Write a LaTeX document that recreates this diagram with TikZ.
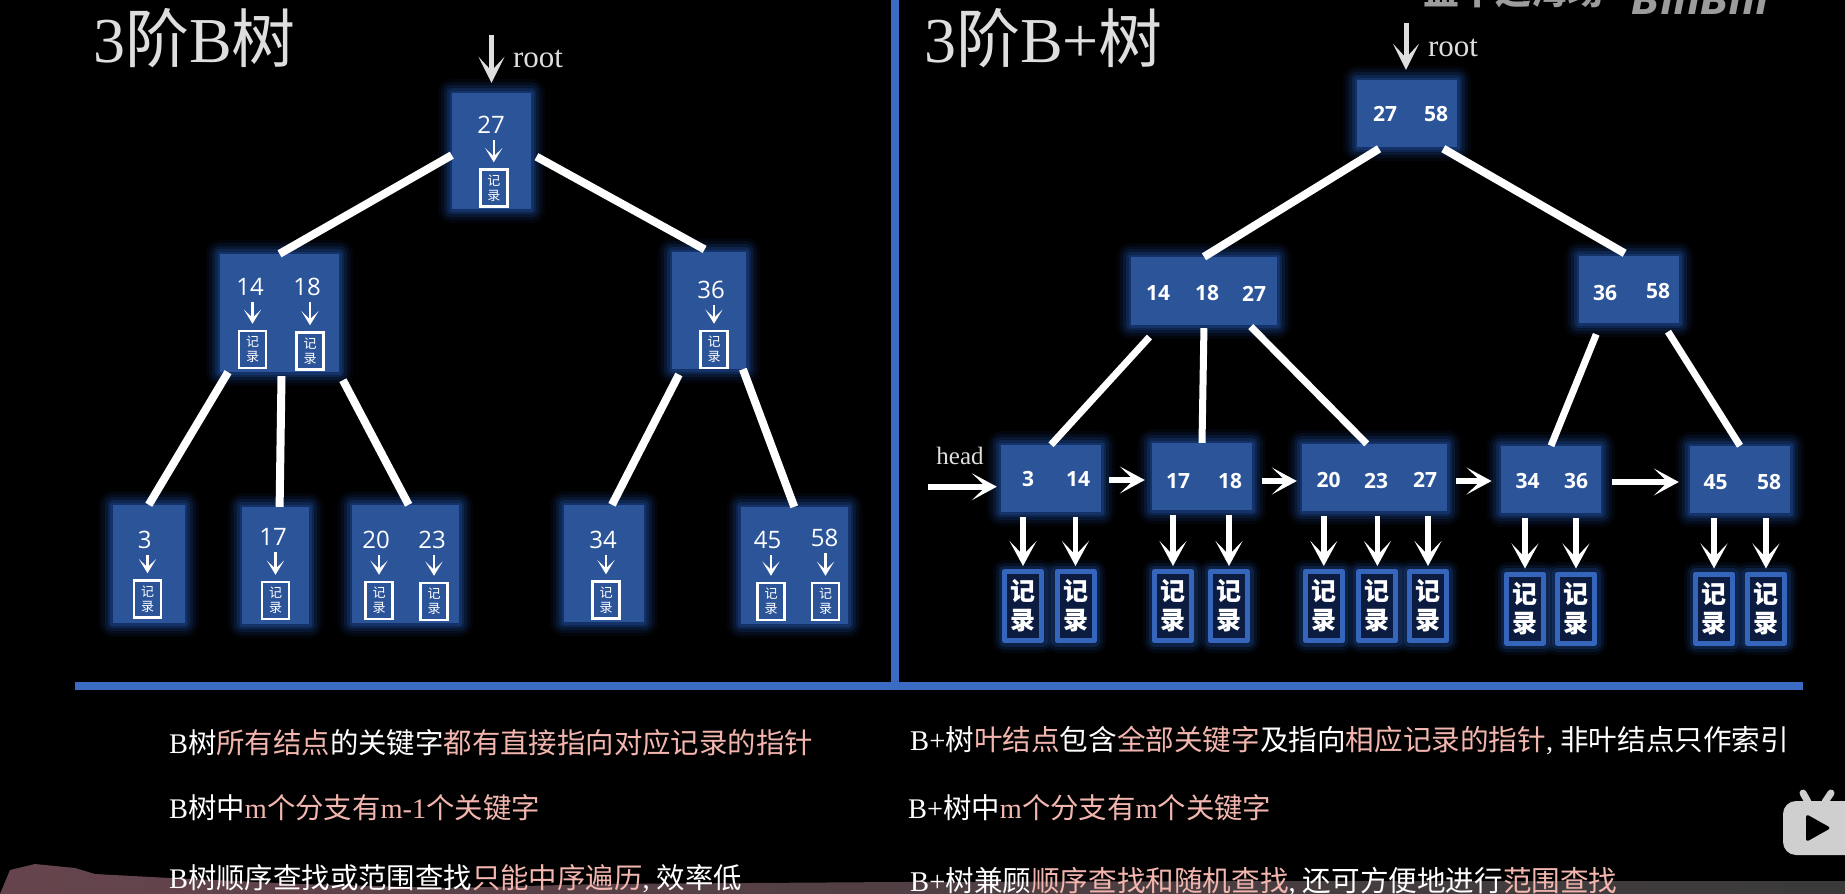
\documentclass[tikz,border=0pt]{standalone}
\usepackage{fontspec}
\setmainfont{Liberation Serif}
\newfontfamily\cjk{Noto Sans CJK SC}
\newfontfamily\numfont{Open Sans}
\newfontfamily\logofont{DejaVu Sans}
\usetikzlibrary{arrows.meta}

\definecolor{nodeblue}{HTML}{2C5499}
\definecolor{glowblue}{HTML}{2A62C8}
\definecolor{barblue}{HTML}{3A6CC4}
\definecolor{recblue}{HTML}{3566BC}
\definecolor{recdark}{HTML}{0B1C40}
\definecolor{notepink}{HTML}{F3B6AE}
\definecolor{titlegray}{HTML}{DEDEDE}
\definecolor{markgray}{HTML}{9C9C9C}
\definecolor{iconGray}{HTML}{CFCFCF}
\definecolor{bandleft}{HTML}{66444D}
\definecolor{bandmid}{HTML}{5A414A}
\definecolor{bandright}{HTML}{3A3A3A}

\newcommand{\zh}[1]{{\cjk #1}}
\newcommand{\pinktext}[1]{\textcolor{notepink}{#1}}

\begin{document}
\begin{tikzpicture}[
    x=1pt, y=-1pt,
    keybox/.style={
        fill=nodeblue, inner sep=0pt, line join=round,
        preaction={draw=glowblue, line width=28pt, opacity=0.06},
        preaction={draw=glowblue, line width=22pt, opacity=0.09},
        preaction={draw=glowblue, line width=16pt, opacity=0.13},
        preaction={draw=glowblue, line width=10pt, opacity=0.18},
        preaction={draw=glowblue, line width=5pt, opacity=0.22}
    },
    keylabel/.style={
        font=\fontsize{24}{28}\selectfont\numfont, text=white, inner sep=0pt
    },
    keybold/.style={
        font=\fontsize{21}{25}\selectfont\numfont\bfseries, text=white, inner sep=0pt
    },
    recsmall/.style={
        draw=white, line width=2.5pt, minimum width=27pt, minimum height=37pt,
        inner sep=0pt, align=center, text=white,
        font=\fontsize{13}{15}\selectfont\cjk
    },
    recbig/.style={
        draw=recblue, line width=5pt, fill=recdark, minimum width=37pt, minimum height=69pt,
        inner sep=0pt, align=center, text=white, line join=round,
        font=\fontsize{25}{29}\selectfont\cjk\bfseries,
        preaction={draw=glowblue, line width=24pt, opacity=0.07},
        preaction={draw=glowblue, line width=18pt, opacity=0.12},
        preaction={draw=glowblue, line width=12pt, opacity=0.20}
    },
    linkline/.style={draw=white, line width=8pt},
    ptrsmall/.style={
        -{Stealth[length=14pt, width=17pt, inset=8pt]},
        draw=white, line width=2.5pt, shorten <=6pt, shorten >=6pt
    },
    ptrbig/.style={
        -{Stealth[length=25pt, width=27pt, inset=14pt]},
        draw=white, line width=5.5pt, shorten <=5pt, shorten >=3pt
    },
    rootarrow/.style={
        -{Stealth[length=26pt, width=26pt, inset=14pt]},
        draw=titlegray, line width=5pt, shorten >=10pt
    },
    roottext/.style={font=\fontsize{31}{34}\selectfont, text=titlegray, inner sep=0pt},
    headtext/.style={font=\fontsize{25}{30}\selectfont, text=titlegray, inner sep=0pt},
    bigtitle/.style={font=\fontsize{64}{70}\selectfont, text=titlegray, anchor=base west, inner sep=0pt},
    notetext/.style={font=\fontsize{28.4}{32}\selectfont, text=white, anchor=base west, inner sep=0pt}
]

\useasboundingbox (0,0) rectangle (1845,894);
\fill[black] (0,0) rectangle (1845,894);

% --- band along the bottom edge ---
\shade[left color=bandleft, middle color=bandmid, right color=bandright]
    (0,894) -- (10,870) -- (35,864) -- (55,866) -- (75,868) -- (95,874) -- (170,878)
    -- (300,884) -- (450,888) -- (600,884) -- (900,882) -- (1300,881) -- (1845,881) -- (1845,894) -- cycle;

% --- watermark, cut by the top edge ---
\node[font=\fontsize{36}{40}\selectfont\cjk\bfseries, text=markgray, anchor=base west, inner sep=0pt]
    (markname) at (1423,5) {盖十这海场};
\node[font=\fontsize{38}{42}\selectfont\logofont\bfseries\itshape, text=markgray, anchor=base, inner sep=0pt]
    (marklogo) at (1700,14) {BiliBili};

% --- player icon at the right edge ---
\draw[line width=7pt, line cap=round, draw=iconGray] (1803,793) -- (1808,802);
\draw[line width=7pt, line cap=round, draw=iconGray] (1831,793) -- (1825,802);
\fill[iconGray, rounded corners=13pt] (1783,801) rectangle (1870,855);
\fill[black, rounded corners=3pt] (1806,814) -- (1806,842) -- (1831,828) -- cycle;

% --- dividers ---
\fill[barblue] (891,0) rectangle (899,686);
\fill[barblue] (75,682) rectangle (1803,690);

% --- titles ---
\node[bigtitle] (titleb) at (93,62) {3\zh{阶}B\zh{树}};
\node[bigtitle] (titlebp) at (924,62) {3\zh{阶}B+\zh{树}};

% --- 3-order B tree ---
\node[keybox, minimum width=79pt, minimum height=116pt] (bt0) at (491.5,151) {};
\node[keybox, minimum width=119pt, minimum height=118pt] (bt1) at (279.5,313) {};
\node[keybox, minimum width=74pt, minimum height=117pt] (bt2) at (709,310.5) {};
\node[keybox, minimum width=72pt, minimum height=118pt] (bt3) at (148.75,564) {};
\node[keybox, minimum width=67pt, minimum height=117pt] (bt4) at (275.5,565.5) {};
\node[keybox, minimum width=107pt, minimum height=118pt] (bt5) at (405.5,564) {};
\node[keybox, minimum width=79.5pt, minimum height=117pt] (bt6) at (603.75,563.5) {};
\node[keybox, minimum width=107.5pt, minimum height=117pt] (bt7) at (794.25,565.5) {};

\coordinate (btin) at (491.5,35);
\draw[rootarrow] (btin) -- (bt0.north);
\node[roottext] (btroot) at (538,59) {root};

\draw[linkline] (bt0.186) -- (bt1.north);
\draw[linkline, shorten <=6pt, shorten >=5pt] (bt0.356) -- (bt2.north);
\draw[linkline] (bt1.229) -- (bt3.north);
\draw[linkline, shorten <=4pt] (bt1.272) -- (bt4.86);
\draw[linkline, shorten <=9pt] (bt1.315) -- (bt5.87);
\draw[linkline, shorten <=6pt] (bt2.245) -- (bt6.82);
\draw[linkline] (bt2.300) -- (bt7.north);

\node[keylabel] (lk27) at (491,125) {27};
\node[recsmall] (lr27) at (493.75,188) {记\\录};
\node[keylabel] (lk14) at (250,287) {14};
\node[recsmall] (lr14) at (252.5,349.5) {记\\录};
\node[keylabel] (lk18) at (307,287) {18};
\node[recsmall] (lr18) at (310,351) {记\\录};
\node[keylabel] (lk36) at (711,290) {36};
\node[recsmall] (lr36) at (714,349.5) {记\\录};
\node[keylabel] (lk3) at (144.7,540) {3};
\node[recsmall] (lr3) at (147.5,599) {记\\录};
\node[keylabel] (lk17) at (273,537) {17};
\node[recsmall] (lr17) at (275.5,600.5) {记\\录};
\node[keylabel] (lk20) at (376,540) {20};
\node[recsmall] (lr20) at (379,600.5) {记\\录};
\node[keylabel] (lk23) at (432,540) {23};
\node[recsmall] (lr23) at (434,601.5) {记\\录};
\node[keylabel] (lk34) at (603,540) {34};
\node[recsmall] (lr34) at (606,600) {记\\录};
\node[keylabel] (lk45) at (767.5,540) {45};
\node[recsmall] (lr45) at (771,601.5) {记\\录};
\node[keylabel] (lk58) at (824.5,538) {58};
\node[recsmall] (lr58) at (825.5,601.5) {记\\录};

\draw[ptrsmall] (lk27.south -| lr27.north) -- (lr27.north);
\draw[ptrsmall] (lk14.south -| lr14.north) -- (lr14.north);
\draw[ptrsmall] (lk18.south -| lr18.north) -- (lr18.north);
\draw[ptrsmall] (lk36.south -| lr36.north) -- (lr36.north);
\draw[ptrsmall] (lk3.south -| lr3.north) -- (lr3.north);
\draw[ptrsmall] (lk17.south -| lr17.north) -- (lr17.north);
\draw[ptrsmall] (lk20.south -| lr20.north) -- (lr20.north);
\draw[ptrsmall] (lk23.south -| lr23.north) -- (lr23.north);
\draw[ptrsmall] (lk34.south -| lr34.north) -- (lr34.north);
\draw[ptrsmall] (lk45.south -| lr45.north) -- (lr45.north);
\draw[ptrsmall] (lk58.south -| lr58.north) -- (lr58.north);

% --- 3-order B+ tree ---
\node[keybox, minimum width=100pt, minimum height=67pt] (bp0) at (1407,113.5) {};
\node[keybox, minimum width=146pt, minimum height=68pt] (bp1) at (1204,291) {};
\node[keybox, minimum width=100pt, minimum height=67pt] (bp2) at (1629,289.5) {};
\node[keybox, minimum width=100pt, minimum height=67pt] (bp3) at (1051,478.5) {};
\node[keybox, minimum width=100pt, minimum height=67pt] (bp4) at (1202,476.5) {};
\node[keybox, minimum width=145pt, minimum height=67pt] (bp5) at (1374.5,477.5) {};
\node[keybox, minimum width=99.5pt, minimum height=67pt] (bp6) at (1551,479.5) {};
\node[keybox, minimum width=100pt, minimum height=67pt] (bp7) at (1740,479.5) {};

\coordinate (bpin) at (1406,23);
\draw[rootarrow] (bpin) -- (bp0.north -| bpin);
\node[roottext] (bproot) at (1453,48) {root};

\draw[linkline, shorten <=3pt] (bp0.233) -- (bp1.north);
\draw[linkline, shorten <=3pt, shorten >=5pt] (bp0.315) -- (bp2.north);
\draw[linkline, line width=7pt, shorten <=16pt] (bp1.218) -- (bp3.north);
\draw[linkline, line width=7pt, shorten <=3pt] (bp1.south) -- (bp4.north);
\draw[linkline, line width=7pt, shorten <=2pt] (bp1.323) -- (bp5.103);
\draw[linkline, line width=7pt, shorten <=12pt] (bp2.230) -- (bp6.north);
\draw[linkline, line width=7pt, shorten <=10pt] (bp2.315) -- (bp7.north);

\node[keybold] (rk27) at (1385,114) {27};
\node[keybold] (rk58) at (1436,114) {58};
\node[keybold] (rk14) at (1158,293) {14};
\node[keybold] (rk18) at (1207,293) {18};
\node[keybold] (rk27b) at (1254,294) {27};
\node[keybold] (rk36) at (1605,293) {36};
\node[keybold] (rk58b) at (1658,291) {58};
\node[keybold] (rk3) at (1028,479) {3};
\node[keybold] (rk14b) at (1078,479) {14};
\node[keybold] (rk17) at (1178,481) {17};
\node[keybold] (rk18b) at (1230,481) {18};
\node[keybold] (rk20) at (1328.6,480) {20};
\node[keybold] (rk23) at (1376,481) {23};
\node[keybold] (rk27c) at (1425,480) {27};
\node[keybold] (rk34) at (1527.5,481) {34};
\node[keybold] (rk36b) at (1576,481) {36};
\node[keybold] (rk45) at (1715.5,482) {45};
\node[keybold] (rk58c) at (1769,482) {58};

% leaf chain
\coordinate (bphead) at (928,486.7);
\node[headtext] (bpheadtxt) at (960,456) {head};
\draw[ptrbig, line width=6pt, shorten <=0pt, shorten >=4pt] (bphead) -- (bphead -| bp3.west);
\draw[ptrbig, line width=6pt, shorten <=8pt, shorten >=7pt] ([yshift=-1.5pt]bp3.east) -- ([yshift=-3.5pt]bp4.west);
\draw[ptrbig, line width=6pt, shorten <=10pt, shorten >=5pt] ([yshift=-4.5pt]bp4.east) -- ([yshift=-3.5pt]bp5.west);
\draw[ptrbig, line width=6pt, shorten <=9pt, shorten >=9.5pt] ([yshift=-3.5pt]bp5.east) -- ([yshift=-1.5pt]bp6.west);
\draw[ptrbig, line width=6pt, shorten <=11pt, shorten >=11pt] ([yshift=-2.5pt]bp6.east) -- ([yshift=-2.5pt]bp7.west);

\node[recbig] (rr3) at (1023,606) {记\\录};
\node[recbig] (rr14) at (1075.5,606) {记\\录};
\node[recbig] (rr17) at (1173,606) {记\\录};
\node[recbig] (rr18) at (1229,606) {记\\录};
\node[recbig] (rr20) at (1323.8,606) {记\\录};
\node[recbig] (rr23) at (1377.4,606) {记\\录};
\node[recbig] (rr27) at (1428,606) {记\\录};
\node[recbig] (rr34) at (1525,608.5) {记\\录};
\node[recbig] (rr36) at (1576,608.5) {记\\录};
\node[recbig] (rr45) at (1714,608.5) {记\\录};
\node[recbig] (rr58) at (1766,608.5) {记\\录};

\draw[ptrbig] (bp3.south -| rr3.north) -- (rr3.north);
\draw[ptrbig] (bp3.south -| rr14.north) -- (rr14.north);
\draw[ptrbig] (bp4.south -| rr17.north) -- (rr17.north);
\draw[ptrbig] (bp4.south -| rr18.north) -- (rr18.north);
\draw[ptrbig] (bp5.south -| rr20.north) -- (rr20.north);
\draw[ptrbig] (bp5.south -| rr23.north) -- (rr23.north);
\draw[ptrbig] (bp5.south -| rr27.north) -- (rr27.north);
\draw[ptrbig] (bp6.south -| rr34.north) -- (rr34.north);
\draw[ptrbig] (bp6.south -| rr36.north) -- (rr36.north);
\draw[ptrbig] (bp7.south -| rr45.north) -- (rr45.north);
\draw[ptrbig] (bp7.south -| rr58.north) -- (rr58.north);

% --- notes under the trees ---
\node[notetext] (noteb1) at (169,753) {B\zh{树}\pinktext{\zh{所有结点}}\zh{的关键字}\pinktext{\zh{都有直接指向对应记录的指针}}};
\node[notetext] (noteb2) at (169,818) {B\zh{树中}\pinktext{m\zh{个分支有}m-1\zh{个关键字}}};
\node[notetext] (noteb3) at (169,888) {B\zh{树顺序查找或范围查找}\pinktext{\zh{只能中序遍历}}, \zh{效率低}};
\node[notetext, font=\fontsize{28.6}{32}\selectfont] (notebp1) at (910,750) {B+\zh{树}\pinktext{\zh{叶结点}}\zh{包含}\pinktext{\zh{全部关键字}}\zh{及指向}\pinktext{\zh{相应记录的指针}}, \zh{非叶结点只作索引}};
\node[notetext] (notebp2) at (908,818) {B+\zh{树中}\pinktext{m\zh{个分支有}m\zh{个关键字}}};
\node[notetext, font=\fontsize{28.6}{32}\selectfont] (notebp3) at (910,891) {B+\zh{树兼顾}\pinktext{\zh{顺序查找和随机查找}}, \zh{还可方便地进行}\pinktext{\zh{范围查找}}};

\end{tikzpicture}
\end{document}
